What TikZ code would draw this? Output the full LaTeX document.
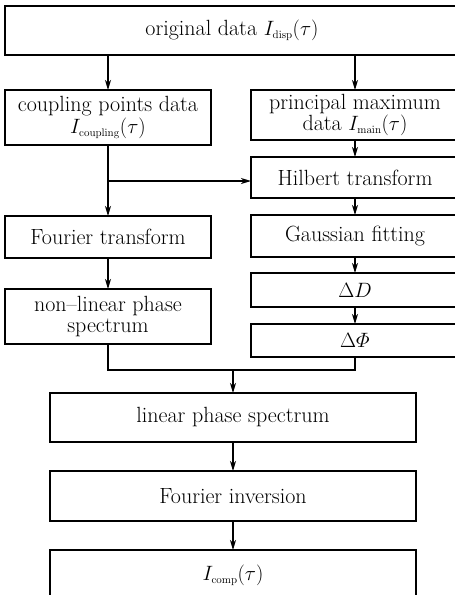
\documentclass[tikz,border=0pt]{standalone}
\usepackage{amsmath}
\usetikzlibrary{arrows.meta}
\begin{document}
\begin{tikzpicture}[x=1pt,y=-1pt,
  box/.style={draw,line width=1.2pt,rectangle,inner sep=2pt,outer sep=0pt,align=center,
    font=\fontsize{22}{23}\selectfont},
  arr/.style={line width=1.2pt,-{Stealth[length=10pt,width=6pt,inset=3pt]}},
  ln/.style={line width=1.2pt}]
\useasboundingbox (0,0) rectangle (455,595);
\fill[white] (0,0) rectangle (455,595);
\clip (0,0) rectangle (455,595);
\node[box,minimum width=454pt,minimum height=49pt] (orig) at (232,30.5) {original data $I_{\scriptscriptstyle\mathrm{disp}}(\tau)$};
\node[box,minimum width=206pt,minimum height=55pt] (coup) at (108,117.5) {coupling points data\\[-1pt]$I_{\scriptscriptstyle\mathrm{coupling}}(\tau)$};
\node[box,minimum width=208pt,minimum height=50pt] (princ) at (355,115) {principal maximum\\[-2pt]data $I_{\scriptscriptstyle\mathrm{main}}(\tau)$};
\node[box,minimum width=208pt,minimum height=41pt] (hilb) at (355,177.5) {Hilbert transform};
\node[box,minimum width=206pt,minimum height=42pt] (four) at (108,237) {Fourier transform};
\node[box,minimum width=208pt,minimum height=42pt] (gauss) at (355,236) {Gaussian fitting};
\node[box,minimum width=208pt,minimum height=34pt] (dD) at (355,290) {$\Delta D$};
\node[box,minimum width=208pt,minimum height=33pt] (dPhi) at (355,340.5) {$\Delta\varPhi$};
\node[box,minimum width=206pt,minimum height=55pt] (nonlin) at (108,316.5) {non--linear phase\\[-2pt]spectrum};
\node[box,minimum width=366pt,minimum height=49pt] (lin) at (233,417.5) {linear phase spectrum};
\node[box,minimum width=366pt,minimum height=50pt] (finv) at (233,496) {Fourier inversion};
\node[box,minimum width=366pt,minimum height=50pt] (comp) at (233,575) {$I_{\scriptscriptstyle\mathrm{comp}}(\tau)$};
\coordinate (split) at (108,181);
\coordinate (mergeL) at (108,370);
\coordinate (mergeM) at (233,370);
\draw[arr] (orig.south -| coup) -- (coup.north);
\draw[arr] (orig.south -| princ) -- (princ.north);
\draw[arr] (coup.south) -- (four.north);
\draw[arr] (split) -- (split -| hilb.west);
\draw[arr] (princ.south) -- (hilb.north);
\draw[arr] (hilb.south) -- (gauss.north);
\draw[arr] (gauss.south) -- (dD.north);
\draw[arr] (dD.south) -- (dPhi.north);
\draw[arr] (four.south) -- (nonlin.north);
\draw[ln] (nonlin.south) -- (mergeL) -| (dPhi.south);
\draw[arr] (mergeM) -- (lin.north);
\draw[arr] (lin.south) -- (finv.north);
\draw[arr] (finv.south) -- (comp.north);
\end{tikzpicture}
\end{document}
